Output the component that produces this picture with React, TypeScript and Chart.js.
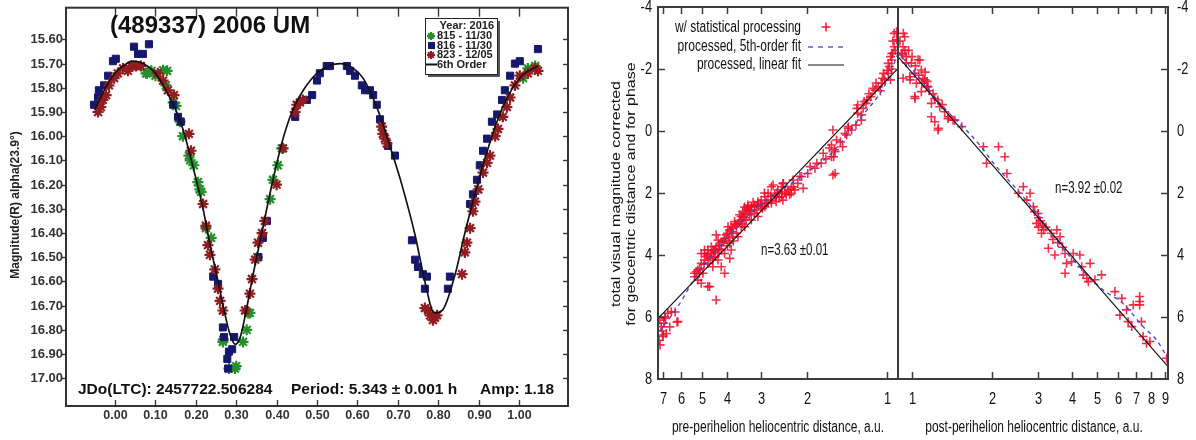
import React, { useEffect, useRef } from "react";
import { Chart, registerables } from "chart.js";
Chart.register(...registerables);

type P = [number, number];

// ---------------- Left panel: lightcurve of (489337) 2006 UM ----------------
const phaseTicks = [0, 0.1, 0.2, 0.3, 0.4, 0.5, 0.6, 0.7, 0.8, 0.9, 1.0];
const lcMagTicks = [15.6, 15.7, 15.8, 15.9, 16.0, 16.1, 16.2, 16.3, 16.4, 16.5, 16.6, 16.7, 16.8, 16.9, 17.0];

const night815: P[] = [
  [0.077, 15.74], [0.079, 15.74], [0.09, 15.73], [0.1, 15.75], [0.119, 15.727], [0.129, 15.73], [0.126, 15.79],
  [0.144, 15.86], [0.151, 15.875], [0.161, 15.94], [0.168, 16.0], [0.183, 16.08], [0.186, 16.1], [0.195, 16.12],
  [0.205, 16.19], [0.21, 16.22], [0.213, 16.23], [0.225, 16.38], [0.238, 16.42], [0.267, 16.85], [0.268, 16.84],
  [0.282, 16.96], [0.297, 16.96], [0.3, 16.95], [0.317, 16.85], [0.326, 16.8], [0.33, 16.73], [0.334, 16.73],
  [0.352, 16.5], [0.384, 16.26], [0.391, 16.18], [0.403, 16.12], [0.413, 16.05], [1.01, 15.76], [1.022, 15.72], [1.04, 15.71],
];
const night816: P[] = [
  [-0.052, 15.87], [-0.042, 15.84], [-0.04, 15.81], [-0.027, 15.79], [-0.017, 15.75], [-0.005, 15.69], [0.002, 15.68],
  [0.047, 15.63], [0.057, 15.66], [0.069, 15.66], [0.084, 15.62], [0.144, 15.87], [0.156, 15.92], [0.163, 15.94],
  [0.243, 16.58], [0.255, 16.61], [0.267, 16.79], [0.27, 16.83], [0.278, 16.92], [0.28, 16.96], [0.282, 16.89],
  [0.29, 16.88], [0.295, 16.83], [0.355, 16.5], [0.366, 16.42], [0.376, 16.35], [0.446, 15.92], [0.475, 15.85],
  [0.488, 15.83], [0.5, 15.77], [0.507, 15.74], [0.524, 15.71], [0.532, 15.71], [0.574, 15.71], [0.582, 15.73],
  [0.594, 15.75], [0.611, 15.79], [0.619, 15.81], [0.631, 15.81], [0.639, 15.83], [0.648, 15.87], [0.656, 15.93],
  [0.676, 16.04], [0.693, 16.08], [0.735, 16.43], [0.743, 16.51], [0.75, 16.54], [0.762, 16.57], [0.772, 16.58],
  [0.767, 16.63], [0.824, 16.63], [0.829, 16.58], [0.879, 16.28], [0.886, 16.24], [0.896, 16.18], [0.903, 16.12],
  [0.911, 16.06], [0.921, 16.01], [0.933, 15.94], [0.946, 15.91], [0.958, 15.85], [0.965, 15.81], [0.978, 15.75],
  [0.99, 15.7], [1.002, 15.69], [1.047, 15.64],
];
const night823: P[] = [
  [-0.042, 15.9], [-0.035, 15.88], [-0.03, 15.85], [-0.022, 15.83], [-0.015, 15.79], [-0.002, 15.76], [0.007, 15.74],
  [0.02, 15.72], [0.032, 15.73], [0.04, 15.71], [0.052, 15.71], [0.064, 15.71], [0.106, 15.74], [0.119, 15.77],
  [0.131, 15.81], [0.146, 15.83], [0.183, 15.99], [0.188, 16.06], [0.218, 16.28], [0.225, 16.37], [0.23, 16.45],
  [0.235, 16.49], [0.247, 16.55], [0.255, 16.63], [0.26, 16.68], [0.267, 16.72], [0.322, 16.72], [0.334, 16.65],
  [0.339, 16.59], [0.347, 16.51], [0.354, 16.44], [0.364, 16.4], [0.371, 16.35], [0.4, 16.2], [0.416, 16.05],
  [0.446, 15.9], [0.45, 15.87], [0.458, 15.86], [0.465, 15.85], [0.66, 15.96], [0.663, 15.99], [0.668, 16.01],
  [0.673, 16.03], [0.767, 16.71], [0.775, 16.72], [0.78, 16.74], [0.787, 16.76], [0.792, 16.75], [0.797, 16.74],
  [0.859, 16.57], [0.866, 16.48], [0.871, 16.44], [0.879, 16.38], [0.886, 16.31], [0.891, 16.27], [0.899, 16.22],
  [0.911, 16.15], [0.921, 16.11], [0.928, 16.08], [0.941, 16.0], [0.948, 15.97], [0.96, 15.92], [0.97, 15.88],
  [0.978, 15.84], [0.99, 15.79], [1.002, 15.75], [1.022, 15.74], [1.04, 15.72], [1.047, 15.73],
];
const fit6th: P[] = [
  [-0.05, 15.89], [-0.02, 15.79], [0.0, 15.74], [0.02, 15.71], [0.045, 15.69], [0.07, 15.7], [0.1, 15.74],
  [0.126, 15.81], [0.15, 15.89], [0.168, 15.97], [0.195, 16.14], [0.218, 16.3], [0.233, 16.43], [0.255, 16.6],
  [0.27, 16.72], [0.285, 16.82], [0.298, 16.86], [0.31, 16.83], [0.32, 16.76], [0.342, 16.57], [0.367, 16.37],
  [0.391, 16.18], [0.416, 16.01], [0.438, 15.9], [0.466, 15.81], [0.507, 15.73], [0.557, 15.7], [0.59, 15.72],
  [0.614, 15.76], [0.648, 15.88], [0.688, 16.08], [0.71, 16.2], [0.743, 16.41], [0.767, 16.6], [0.79, 16.73],
  [0.81, 16.72], [0.842, 16.57], [0.866, 16.4], [0.899, 16.19], [0.933, 16.0], [0.965, 15.86], [1.007, 15.75], [1.047, 15.71],
];

// ---------------- Right panel: comet magnitudes vs heliocentric distance ----------------
const magAxisTicks = [-4, -2, 0, 2, 4, 6, 8];
const preDistTicks = [1, 2, 3, 4, 5, 6, 7];
const postDistTicks = [1, 2, 3, 4, 5, 6, 7, 8, 9];

// [heliocentric distance (au), corrected magnitude]
const preObs: P[] = [
  [0.94, -3.15], [0.92, -2.94], [0.94, -2.72], [0.95, -2.51], [0.96, -2.29], [0.98, -2.08], [0.99, -1.86], [1.02, -1.65],
  [1.05, -1.54], [1.08, -1.43], [1.11, -1.32], [1.15, -1.11], [1.2, -0.89], [1.23, -0.73], [1.29, -0.84], [1.29, -0.57],
  [1.25, -0.35], [1.31, -0.19], [1.36, -0.03], [1.42, 0.13], [1.4, -0.09], [1.6, -0.03], [1.47, 0.51], [1.58, 0.61],
  [1.62, 0.83], [1.6, 1.42], [1.77, 1.04], [1.87, 1.2], [1.99, 1.37], [2.1, 1.47], [2.17, 1.69], [2.26, 1.8],
  [2.36, 1.9], [2.47, 1.69], [2.5, 2.01], [2.62, 2.12], [2.73, 1.8], [2.73, 2.23], [2.81, 2.33], [2.98, 2.44],
  [3.07, 2.28], [3.16, 2.66], [3.25, 2.44], [3.35, 2.44], [3.4, 2.87], [3.49, 2.76], [3.55, 3.09], [3.65, 2.98],
  [3.7, 3.3], [3.81, 3.41], [3.87, 3.09], [3.92, 3.62], [4.1, 3.52], [4.22, 3.84], [4.34, 3.95], [4.41, 3.35],
  [4.54, 4.16], [4.6, 3.73], [4.74, 3.84], [4.81, 4.05], [4.88, 3.84], [5.02, 3.95], [5.17, 4.48], [5.32, 4.59],
  [5.02, 4.91], [4.67, 5.02], [4.41, 5.45], [4.1, 4.59], [3.92, 4.11], [4.22, 4.38],
  [0.92, -3.2], [0.96, -2.5], [0.99, -2.18], [0.97, -1.65], [1.03, -1.86], [1.13, -1.38], [1.19, -1.0], [1.3, -0.73],
  [1.25, -0.52], [1.4, -0.14], [1.44, 0.08], [1.55, 0.29], [1.57, 0.67], [1.59, 0.83], [1.57, 1.37], [1.74, 0.72],
  [1.84, 1.04], [1.95, 1.15], [2.13, 1.47], [2.26, 1.58], [2.46, 1.69], [2.49, 2.12], [2.3, 1.85], [2.07, 1.85],
  [1.62, 0.45], [1.65, 0.55], [1.7, 0.9], [1.5, 0.35],
  [2.69, 1.74], [2.58, 1.9], [2.5, 1.8], [2.43, 1.96], [2.33, 2.06], [2.65, 2.06], [2.81, 2.01], [2.89, 2.12],
  [2.98, 2.23], [3.07, 2.39], [3.16, 2.44], [3.25, 2.6], [3.35, 2.49], [3.44, 2.66], [3.55, 2.76], [3.6, 2.92],
  [3.7, 3.03], [3.81, 3.14], [3.92, 3.19], [4.04, 3.35], [4.1, 3.46], [4.16, 3.57], [4.28, 3.68], [4.41, 3.73],
  [4.47, 3.84], [4.6, 3.95], [4.74, 4.0], [4.88, 4.16], [5.02, 4.27], [5.09, 4.43], [5.24, 4.54], [5.32, 4.7],
  [5.17, 4.81], [4.74, 4.27], [4.54, 4.38], [4.34, 4.16], [4.1, 3.95], [3.87, 3.84], [3.65, 3.41], [3.44, 3.09],
  [3.25, 2.87], [3.07, 2.76], [2.89, 2.44], [2.73, 2.33], [2.62, 2.28], [2.47, 2.23], [2.3, 2.01], [2.23, 1.9],
  [3.35, 2.39], [3.16, 2.39], [3.4, 2.55], [3.55, 2.87], [3.76, 2.92], [3.98, 3.09], [4.34, 3.52], [4.54, 3.84],
  [4.88, 3.95], [4.95, 4.59], [4.74, 5.02],
  [3.3, 2.55], [3.45, 2.8], [3.5, 2.6], [3.6, 2.7], [3.75, 3.0], [3.85, 3.25], [4.0, 3.3], [4.2, 3.6], [4.3, 3.8],
  [4.5, 3.9], [4.45, 4.05], [4.65, 4.1], [4.9, 4.3], [5.1, 4.6], [4.0, 3.7], [3.8, 3.55], [3.95, 3.45], [3.5, 3.0],
  [3.3, 2.7], [3.1, 2.55], [2.95, 2.5], [2.85, 2.3], [2.75, 2.1], [2.6, 2.0], [2.55, 2.15], [2.4, 2.05], [3.2, 2.3],
  [3.0, 2.35], [2.9, 2.0], [3.45, 2.45],
  [0.93, -2.6], [0.95, -2.9], [0.96, -2.0], [0.97, -2.4], [1.0, -1.95], [1.04, -1.7], [1.06, -1.3], [1.1, -1.55],
  [1.17, -1.2], [1.22, -0.95],
  [6.9, 5.99], [6.71, 5.88], [6.51, 5.83], [6.15, 6.15], [7.11, 6.31], [6.8, 6.53], [7.0, 6.63], [7.18, 6.9],
  [7.0, 6.58], [6.6, 6.32], [6.3, 5.84], [6.2, 6.16], [7.2, 6.1], [7.05, 6.45], [6.95, 6.2], [7.25, 6.75], [6.85, 6.05],
];
const postObs: P[] = [
  [0.938, -3.04], [0.925, -2.72], [0.911, -2.51], [0.952, -2.4], [0.994, -2.19], [1.053, -2.3], [1.084, -1.97],
  [1.024, -1.86], [0.98, -1.75], [0.925, -1.7], [1.038, -1.54], [1.117, -1.65], [1.149, -1.43], [1.024, -1.11],
  [1.084, -1.27], [1.183, -0.89], [1.218, -1.05], [1.272, -0.78], [1.328, -0.62], [1.367, -0.4], [1.428, -0.35],
  [1.183, -0.46], [1.218, -0.3], [1.253, -0.03], [1.257, -0.09], [1.371, -0.46], [1.45, -0.35], [1.54, -0.14],
  [1.86, 0.51], [1.91, 1.04], [2.12, 0.51], [2.24, 0.83], [2.28, 1.37], [2.52, 2.01], [2.63, 1.8], [2.71, 2.23],
  [2.79, 2.01], [2.87, 2.44], [2.99, 2.66], [2.95, 2.98], [3.08, 3.3], [3.14, 3.19], [3.27, 3.78], [3.46, 4.0],
  [3.52, 3.19], [3.62, 3.41], [3.78, 3.95], [3.78, 4.59], [3.83, 4.27], [4.0, 4.22], [4.06, 3.95], [4.3, 4.0],
  [4.37, 4.38], [4.43, 4.64], [4.57, 4.75], [4.7, 4.27], [4.63, 4.86], [4.9, 4.8], [5.19, 4.64], [5.83, 5.18],
  [6.19, 5.4], [6.09, 5.94], [6.45, 5.77], [6.54, 6.15], [6.75, 6.31], [6.84, 5.61], [7.23, 5.34], [7.23, 5.5],
  [7.23, 5.61], [7.34, 6.15], [7.45, 6.63], [7.67, 6.85], [7.9, 6.79], [9.14, 7.33],
  [0.927, -3.15], [0.94, -2.6], [1.07, -2.29], [1.088, -1.54], [0.983, -1.65], [1.026, -1.05], [1.136, -1.43],
  [0.9, -2.9], [0.92, -2.45], [0.95, -2.2], [0.97, -2.6], [1.0, -2.4], [1.03, -2.1], [1.06, -1.8], [1.1, -1.7],
  [1.12, -1.9], [1.14, -1.6], [1.16, -1.3], [1.2, -1.2], [1.25, -1.0], [1.3, -0.85],
  [2.9, 2.6], [3.0, 2.8], [3.05, 2.9], [3.1, 3.05], [3.2, 3.1], [3.35, 3.3], [3.4, 3.5], [3.0, 3.1], [3.55, 3.6], [3.7, 3.75],
];
const preLinearFit: P[] = [[0.909, -2.02], [7.31, 6.05]];
const postLinearFit: P[] = [[0.885, -2.4], [9.25, 7.6]];
const pre5thFit: P[] = [
  [0.909, -2.51], [1.01, -1.54], [1.28, -0.35], [1.62, 0.72], [2.3, 1.69], [3.07, 2.44], [3.87, 3.3], [5.17, 4.59], [6.16, 5.67], [7.31, 6.52],
];
const post5thFit: P[] = [
  [0.885, -2.56], [0.983, -2.07], [1.275, -0.89], [1.78, 0.4], [2.03, 1.04], [2.63, 2.12], [3.95, 4.05], [5.27, 5.13], [6.25, 5.56], [7.45, 6.31], [8.37, 6.74], [9.25, 7.35],
];

// ---------------- helpers ----------------
const SANS = '"Liberation Sans", Arial, Helvetica, sans-serif';
const toXY = (a: P[]) => a.map(([x, y]) => ({ x, y }));

function seg(ctx: CanvasRenderingContext2D, x1: number, y1: number, x2: number, y2: number) {
  ctx.beginPath();
  ctx.moveTo(x1, y1);
  ctx.lineTo(x2, y2);
  ctx.stroke();
}
function txt(
  ctx: CanvasRenderingContext2D, s: string, x: number, y: number,
  font: string, color: string, align: CanvasTextAlign = "left", sx = 1, rot = 0, baseline: CanvasTextBaseline = "middle",
) {
  ctx.save();
  ctx.font = font;
  ctx.fillStyle = color;
  ctx.textAlign = align;
  ctx.textBaseline = baseline;
  ctx.translate(x, y);
  if (rot) ctx.rotate(rot);
  if (rot) ctx.scale(1, sx);
  else ctx.scale(sx, 1);
  ctx.fillText(s, 0, 0);
  ctx.restore();
}
function drawStar(ctx: CanvasRenderingContext2D, x: number, y: number, r: number, color: string) {
  ctx.save();
  ctx.strokeStyle = color;
  ctx.lineWidth = 2;
  for (let k = 0; k < 4; k++) {
    const a = (k * Math.PI) / 4;
    seg(ctx, x - r * Math.cos(a), y - r * Math.sin(a), x + r * Math.cos(a), y + r * Math.sin(a));
  }
  ctx.restore();
}

const C815 = "#24902a";
const C816 = "#16186e";
const C823 = "#921c1f";

const leftDecor = {
  id: "leftDecor",
  afterDraw(chart: any) {
    const { ctx, chartArea: a } = chart;
    const x = chart.scales.x;
    const y = chart.scales.y;
    ctx.save();
    ctx.strokeStyle = "#3a3a3a";
    ctx.lineWidth = 1.4;
    phaseTicks.forEach((v) => {
      const px = Math.round(x.getPixelForValue(v)) + 0.5;
      seg(ctx, px, a.bottom, px, a.bottom - 6);
      seg(ctx, px, a.top, px, a.top + 9);
      txt(ctx, v.toFixed(2), px, 416, `bold 12.5px ${SANS}`, "#333", "center");
    });
    lcMagTicks.forEach((v) => {
      const py = Math.round(y.getPixelForValue(v)) + 0.5;
      seg(ctx, a.left - 4, py, a.left, py);
      seg(ctx, a.right - 5, py, a.right, py);
      txt(ctx, v.toFixed(2), a.left - 3, py, `bold 13px ${SANS}`, "#333", "right");
    });
    ctx.lineWidth = 2;
    ctx.strokeStyle = "#333";
    ctx.strokeRect(a.left, a.top, a.right - a.left, a.bottom - a.top);

    txt(ctx, "Magnitude(R) alpha(23.9\u00b0)", 16, 205, `bold 12px ${SANS}`, "#222", "center", 1, -Math.PI / 2);
    txt(ctx, "(489337) 2006 UM", 110, 33, `bold 24px ${SANS}`, "#111", "left", 1, 0, "alphabetic");
    const f = `bold 15.5px ${SANS}`;
    txt(ctx, "JDo(LTC): 2457722.506284", 78, 394, f, "#111", "left", 1, 0, "alphabetic");
    txt(ctx, "Period: 5.343 \u00b1 0.001 h", 291, 394, f, "#111", "left", 1, 0, "alphabetic");
    txt(ctx, "Amp: 1.18", 480, 394, f, "#111", "left", 1, 0, "alphabetic");

    // legend box
    const bx = 425, by = 18, bw = 72, bh = 56;
    ctx.fillStyle = "#555";
    ctx.fillRect(bx + 3, by + 3, bw, bh);
    ctx.fillStyle = "#fff";
    ctx.fillRect(bx, by, bw, bh);
    ctx.strokeStyle = "#222";
    ctx.lineWidth = 1;
    ctx.strokeRect(bx + 0.5, by + 0.5, bw, bh);
    const lf = `bold 11px ${SANS}`;
    txt(ctx, "Year: 2016", 494, 26, lf, "#222", "right");
    drawStar(ctx, 431, 36, 4, C815);
    txt(ctx, "815 - 11/30", 437, 36, lf, "#222");
    ctx.fillStyle = C816;
    ctx.fillRect(428, 42, 7, 7);
    txt(ctx, "816 - 11/30", 437, 45.5, lf, "#222");
    drawStar(ctx, 431, 55, 4, C823);
    txt(ctx, "823 - 12/05", 437, 55, lf, "#222");
    ctx.strokeStyle = "#111";
    ctx.lineWidth = 2;
    seg(ctx, 426, 64.5, 437, 64.5);
    txt(ctx, "6th Order", 437, 64.5, lf, "#222");
    ctx.restore();
  },
};

const AX = "#3c3c3c";
const TF = `16px ${SANS}`;
const SX = 0.75;

function crossMark(ctx: CanvasRenderingContext2D, x: number, y: number) {
  ctx.save();
  ctx.strokeStyle = "rgba(240,10,40,0.9)";
  ctx.lineWidth = 1.6;
  seg(ctx, x - 4.5, y, x + 4.5, y);
  seg(ctx, x, y - 4.5, x, y + 4.5);
  ctx.restore();
}

const preDecor = {
  id: "preDecor",
  afterDraw(chart: any) {
    const { ctx, chartArea: a } = chart;
    const x = chart.scales.x;
    const y = chart.scales.y;
    ctx.save();
    ctx.strokeStyle = AX;
    ctx.lineWidth = 1.5;
    magAxisTicks.forEach((v) => {
      const py = Math.round(y.getPixelForValue(v)) + 0.5;
      if (v > -4 && v < 8) seg(ctx, a.left, py, a.left + 7, py);
      txt(ctx, String(v), a.left - 6, py, TF, "#111", "right", 0.8);
    });
    preDistTicks.forEach((v) => {
      const px = Math.round(x.getPixelForValue(v)) + 0.5;
      seg(ctx, px, a.bottom, px, a.bottom - 7);
      seg(ctx, px, a.top, px, a.top + 7);
      txt(ctx, String(v), px, 400, TF, "#111", "center", 0.8);
    });
    ctx.lineWidth = 2;
    ctx.strokeRect(a.left, a.top, a.right - a.left, a.bottom - a.top);
    txt(ctx, "total visual magnitude corrected", 27, 194, TF, "#111", "center", SX, -Math.PI / 2);
    txt(ctx, "for geocentric distance and for phase", 42, 194, TF, "#111", "center", SX, -Math.PI / 2);
    txt(ctx, "pre-perihelion heliocentric distance, a.u.", 188, 428, TF, "#111", "center", SX);
    // legend
    txt(ctx, "w/ statistical processing", 211, 28, TF, "#111", "right", SX);
    txt(ctx, "processed, 5th-order fit", 211, 47, TF, "#111", "right", SX);
    txt(ctx, "processed, linear fit", 211, 65, TF, "#111", "right", SX);
    crossMark(ctx, 236, 27);
    ctx.strokeStyle = "#3a46e0";
    ctx.lineWidth = 1.3;
    ctx.setLineDash([5, 5]);
    seg(ctx, 218, 47, 254, 47);
    ctx.setLineDash([]);
    ctx.strokeStyle = "#111";
    ctx.lineWidth = 1.2;
    seg(ctx, 218, 65, 254, 65);
    txt(ctx, "n=3.63 \u00b10.01", 171, 251, TF, "#111", "left", 0.72);
    ctx.restore();
  },
};

const postDecor = {
  id: "postDecor",
  afterDraw(chart: any) {
    const { ctx, chartArea: a } = chart;
    const x = chart.scales.x;
    const y = chart.scales.y;
    ctx.save();
    ctx.strokeStyle = AX;
    ctx.lineWidth = 1.5;
    magAxisTicks.forEach((v) => {
      const py = Math.round(y.getPixelForValue(v)) + 0.5;
      if (v > -4 && v < 8) seg(ctx, a.right - 7, py, a.right, py);
      txt(ctx, String(v), a.right + 9, py, TF, "#111", "left", 0.8);
    });
    postDistTicks.forEach((v) => {
      const px = Math.round(x.getPixelForValue(v)) + 0.5;
      seg(ctx, px, a.bottom, px, a.bottom - 7);
      seg(ctx, px, a.top, px, a.top + 7);
      txt(ctx, String(v), px, 400, TF, "#111", "center", 0.8);
    });
    ctx.lineWidth = 2;
    ctx.strokeRect(a.left, a.top, a.right - a.left, a.bottom - a.top);
    txt(ctx, "post-perihelion heliocentric distance, a.u.", 144, 428, TF, "#111", "center", SX);
    txt(ctx, "n=3.92 \u00b10.02", 165, 189, TF, "#111", "left", 0.72);
    ctx.restore();
  },
};

const crossDataset = (data: P[]) => ({
  label: "w/ statistical processing",
  data: toXY(data),
  showLine: false,
  pointStyle: "cross",
  pointRadius: 4.5,
  pointBorderWidth: 1.6,
  pointBorderColor: "rgba(240,10,40,0.85)",
  pointBackgroundColor: "rgba(240,10,40,0.85)",
});
const fitDataset = (data: P[], dashed: boolean) => ({
  label: dashed ? "processed, 5th-order fit" : "processed, linear fit",
  data: toXY(data),
  showLine: true,
  pointRadius: 0,
  borderColor: dashed ? "#3a46e0" : "#111",
  borderWidth: dashed ? 1.3 : 1.1,
  borderDash: dashed ? [4, 4] : [],
  cubicInterpolationMode: "monotone",
});

const baseOptions = (padding: any, xScale: any, yScale: any) => ({
  animation: false,
  responsive: false,
  maintainAspectRatio: false,
  events: [],
  layout: { padding },
  scales: { x: { display: false, ...xScale }, y: { display: false, ...yScale } },
  plugins: { legend: { display: false }, tooltip: { enabled: false }, title: { display: false } },
});

export default function App() {
  const leftRef = useRef<HTMLCanvasElement>(null);
  const preRef = useRef<HTMLCanvasElement>(null);
  const postRef = useRef<HTMLCanvasElement>(null);

  useEffect(() => {
    const left = new Chart(leftRef.current as HTMLCanvasElement, {
      type: "scatter",
      data: {
        datasets: [
          {
            label: "6th Order",
            data: toXY(fit6th),
            showLine: true,
            pointRadius: 0,
            borderColor: "#111",
            borderWidth: 1.7,
            cubicInterpolationMode: "monotone",
          },
          { label: "823 - 12/05", data: toXY(night823), pointStyle: "star", pointRadius: 5.5, pointBorderWidth: 2.2, pointBorderColor: C823, pointBackgroundColor: C823 },
          { label: "816 - 11/30", data: toXY(night816), pointStyle: "rect", pointRadius: 5, pointBorderWidth: 1, pointBorderColor: C816, pointBackgroundColor: C816 },
          { label: "815 - 11/30", data: toXY(night815), pointStyle: "star", pointRadius: 5.5, pointBorderWidth: 2.2, pointBorderColor: C815, pointBackgroundColor: C815 },
        ],
      } as any,
      options: baseOptions(
        { left: 66, top: 4, right: 22, bottom: 34 },
        { type: "linear", min: -0.1213, max: 1.1213 },
        { type: "linear", min: 15.469, max: 17.1146, reverse: true },
      ) as any,
      plugins: [leftDecor],
    });

    const pre = new Chart(preRef.current as HTMLCanvasElement, {
      type: "scatter",
      data: { datasets: [fitDataset(preLinearFit, false), fitDataset(pre5thFit, true), crossDataset(preObs)] } as any,
      options: baseOptions(
        { left: 68, top: 7, right: 8, bottom: 61 },
        { type: "logarithmic", min: 0.909, max: 7.31, reverse: true },
        { type: "linear", min: -4, max: 8, reverse: true },
      ) as any,
      plugins: [preDecor],
    });

    const post = new Chart(postRef.current as HTMLCanvasElement, {
      type: "scatter",
      data: { datasets: [fitDataset(postLinearFit, false), fitDataset(post5thFit, true), crossDataset(postObs)] } as any,
      options: baseOptions(
        { left: 8, top: 7, right: 28, bottom: 61 },
        { type: "logarithmic", min: 0.885, max: 9.25 },
        { type: "linear", min: -4, max: 8, reverse: true },
      ) as any,
      plugins: [postDecor],
    });

    return () => {
      left.destroy();
      pre.destroy();
      post.destroy();
    };
  }, []);

  return (
    <div style={{ position: "absolute", left: 0, top: 0, width: 1196, height: 440, background: "#fff", overflow: "hidden" }}>
      <canvas ref={leftRef} width={590} height={440} style={{ position: "absolute", left: 0, top: 0, width: 590, height: 440 }} />
      <canvas ref={preRef} width={316} height={440} style={{ position: "absolute", left: 590, top: 0, width: 316, height: 440 }} />
      <canvas ref={postRef} width={306} height={440} style={{ position: "absolute", left: 890, top: 0, width: 306, height: 440 }} />
    </div>
  );
}
